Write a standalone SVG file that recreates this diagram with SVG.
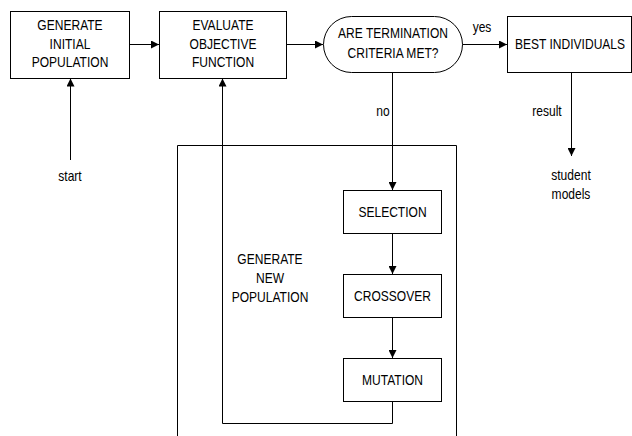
<svg xmlns="http://www.w3.org/2000/svg" width="632" height="436" viewBox="0 0 632 436">
  <style>
    .box { fill: #fff; stroke: #000; stroke-width: 1; }
    .line { fill: none; stroke: #000; stroke-width: 1; }
    /* tall, narrow lettering: 14px sans squeezed horizontally per text */
    .lbl { font-family: "Liberation Sans", Arial, sans-serif; font-size: 14px; fill: #000; text-anchor: middle; }
  </style>
  <defs>
    <marker id="arrow" viewBox="0 0 10 10" refX="10" refY="5" markerWidth="8" markerHeight="8" markerUnits="userSpaceOnUse" orient="auto">
      <path d="M0,0 L10,5 L0,10 Z" fill="#000"/>
    </marker>
  </defs>
  <rect width="632" height="436" fill="#fff"/>

  <!-- enclosing frame for the new-population loop (open at the bottom) -->
  <g id="new-population-frame">
    <path class="line" d="M177.5,436 V145.5 H456.5 V436"/>
    <text class="lbl" transform="translate(270 263.5) scale(0.86 1)">GENERATE</text>
    <text class="lbl" transform="translate(270 282.5) scale(0.86 1)">NEW</text>
    <text class="lbl" transform="translate(270 301.5) scale(0.86 1)">POPULATION</text>
  </g>

  <g id="connectors">
    <path class="line" marker-end="url(#arrow)" d="M129.5,44.5 H159"/>
    <path class="line" marker-end="url(#arrow)" d="M286.5,44.5 H323"/>
    <path class="line" marker-end="url(#arrow)" d="M462,44.5 H507"/>
    <path class="line" marker-end="url(#arrow)" d="M70.5,160 V78.5"/>
    <path class="line" marker-end="url(#arrow)" d="M392.5,73 V190"/>
    <path class="line" marker-end="url(#arrow)" d="M392.5,233 V274"/>
    <path class="line" marker-end="url(#arrow)" d="M392.5,317 V358"/>
    <path class="line" marker-end="url(#arrow)" d="M392.5,402 V423.5 H222.5 V78.5"/>
    <path class="line" marker-end="url(#arrow)" d="M571.5,73 V156"/>
    <text class="lbl" transform="translate(482 32) scale(0.86 1)">yes</text>
    <text class="lbl" transform="translate(383 116) scale(0.86 1)">no</text>
    <text class="lbl" transform="translate(547 116) scale(0.86 1)">result</text>
    <text class="lbl" transform="translate(70 180.5) scale(0.86 1)">start</text>
    <text class="lbl" transform="translate(571 179.5) scale(0.86 1)">student</text>
    <text class="lbl" transform="translate(571 198.5) scale(0.86 1)">models</text>
  </g>

  <g id="generate-initial-population">
    <rect class="box" x="10.5" y="11.5" width="119" height="67"/>
    <text class="lbl" transform="translate(70 30) scale(0.86 1)">GENERATE</text>
    <text class="lbl" transform="translate(70 48.5) scale(0.86 1)">INITIAL</text>
    <text class="lbl" transform="translate(70 67) scale(0.86 1)">POPULATION</text>
  </g>

  <g id="evaluate-objective-function">
    <rect class="box" x="159.5" y="11.5" width="127" height="67"/>
    <text class="lbl" transform="translate(223 30) scale(0.86 1)">EVALUATE</text>
    <text class="lbl" transform="translate(223 48.5) scale(0.86 1)">OBJECTIVE</text>
    <text class="lbl" transform="translate(223 67) scale(0.86 1)">FUNCTION</text>
  </g>

  <g id="termination-check">
    <rect class="box" x="323.5" y="16.5" width="139" height="56" rx="28" ry="28"/>
    <text class="lbl" transform="translate(393 38) scale(0.86 1)">ARE TERMINATION</text>
    <text class="lbl" transform="translate(393 57.5) scale(0.86 1)">CRITERIA MET?</text>
  </g>

  <g id="best-individuals">
    <rect class="box" x="507.5" y="16.5" width="124" height="56"/>
    <text class="lbl" transform="translate(570 49) scale(0.86 1)">BEST INDIVIDUALS</text>
  </g>

  <g id="selection">
    <rect class="box" x="343.5" y="190.5" width="98" height="43"/>
    <text class="lbl" transform="translate(392.5 217) scale(0.86 1)">SELECTION</text>
  </g>

  <g id="crossover">
    <rect class="box" x="343.5" y="274.5" width="98" height="43"/>
    <text class="lbl" transform="translate(392.5 300.5) scale(0.86 1)">CROSSOVER</text>
  </g>

  <g id="mutation">
    <rect class="box" x="343.5" y="358.5" width="98" height="43"/>
    <text class="lbl" transform="translate(392.5 385) scale(0.86 1)">MUTATION</text>
  </g>
</svg>
